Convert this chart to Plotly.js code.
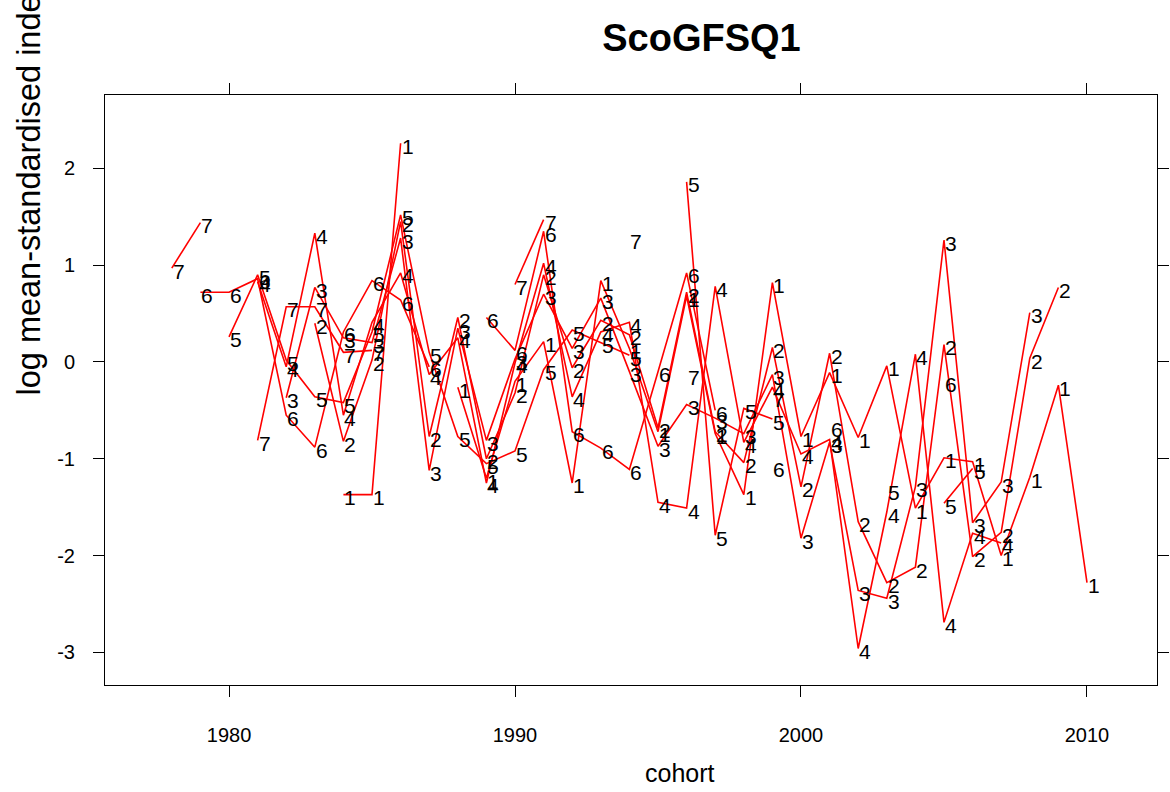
<!DOCTYPE html>
<html>
<head>
<meta charset="utf-8">
<script src="https://cdn.plot.ly/plotly-3.0.1.min.js"></script>
<style>html,body{margin:0;padding:0;background:#fff;}#chart{width:1170px;height:792px;}</style>
</head>
<body>
<div id="chart"></div>
<script>
// survey years; cohort = year - age
const years = [1985,1986,1987,1988,1989,1990,1991,1992,1993,1994,1995,1996,1997,1998,1999,2000,2001,2002,2003,2004,2005,2006,2007,2008,2009,2010,2011];
const ages = [1,2,3,4,5,6,7];
const ageLabels = ['1','2','3','4','5','6','7'];

// log mean-standardised index by age (one value per survey year)
const age1 = [-1.37,-1.37,2.26,null,-0.26,-1.20,-0.20,0.21,-1.25,0.84,0.14,-0.72,0.68,-0.74,-1.37,0.82,-0.77,-0.11,-0.78,-0.04,-1.51,-0.99,-1.03,-2.00,-1.19,-0.24,-2.28];
const age2 = [0.40,-0.82,0.02,1.45,-0.77,0.46,-1.00,-0.32,0.90,-0.06,0.43,0.28,-0.68,0.72,-0.72,-1.04,0.15,-1.29,0.09,-1.65,-2.28,-2.12,0.18,-2.01,-1.76,0.04,0.77];
const age3 = [-0.37,0.77,0.25,0.20,1.28,-1.12,0.35,-0.81,0.03,0.70,0.14,0.66,-0.10,-0.87,-0.44,-0.58,-0.74,-0.13,-1.82,-0.83,-2.36,-2.44,-1.29,1.26,-1.66,-1.24,0.51];
const age4 = [0.83,-0.05,1.33,-0.55,0.41,0.92,-0.13,0.25,-1.25,-0.01,1.02,-0.36,0.31,0.41,-1.45,-1.51,0.78,-0.83,-0.26,-0.95,-0.80,-2.96,-1.55,0.08,-2.69,-1.77,-1.87];
const age5 = [0.26,0.90,0.02,-0.36,-0.42,0.31,1.52,0.10,-0.77,-1.05,-0.92,-0.08,0.33,0.20,0.07,null,1.86,-1.79,-0.48,-0.59,null,null,null,-1.32,null,-1.46,-1.10];
const age6 = [0.72,0.72,0.86,-0.55,-0.88,0.31,0.84,0.64,-0.05,null,0.46,0.12,1.35,-0.72,-0.89,-1.11,-0.10,0.92,-0.50,null,-1.08,null,-0.67,null,null,null,-0.20];
const age7 = [0.97,1.44,null,-0.81,0.57,0.57,0.10,0.12,null,null,null,null,0.80,1.47,null,null,1.28,null,-0.13,null,null,-0.36,null,null,null,null,null];

const yTickVals = [-3,-2,-1,0,1,2];
const yTickText = ['-3','-2','-1','0','1','2'];
const xTickVals = [1980,1990,2000,2010];
const xTickText = ['1980','1990','2000','2010'];

const series = [age1,age2,age3,age4,age5,age6,age7];
const FONT = 'Liberation Sans, Arial, sans-serif';

const traces = [];
const annotations = [];
series.forEach((vals, k) => {
  const age = ages[k];
  const x = years.map(y => y - age);
  traces.push({
    x: x, y: vals, type: 'scatter', mode: 'lines',
    line: {color: '#ff0000', width: 1.6}, connectgaps: false,
    hoverinfo: 'skip', showlegend: false
  });
  vals.forEach((v, i) => {
    if (v === null) return;
    annotations.push({
      x: x[i], y: v, xref: 'x', yref: 'y', text: ageLabels[k], showarrow: false,
      xanchor: 'center', yanchor: 'middle', xshift: 7, yshift: -3,
      font: {family: FONT, size: 21, color: '#000'}
    });
  });
});

// axis titles
annotations.push({
  text: 'cohort', xref: 'paper', yref: 'paper', x: 0.5466, y: -0.149,
  xanchor: 'center', yanchor: 'middle', showarrow: false,
  font: {family: FONT, size: 25, color: '#000'}
});
annotations.push({
  text: 'log mean-standardised index', xref: 'paper', yref: 'paper', x: -0.0722, y: 0.4865,
  xanchor: 'center', yanchor: 'bottom', textangle: -90, showarrow: false,
  font: {family: FONT, size: 32.5, color: '#000'}
});

const axisCommon = {
  showline: true, linecolor: '#000', linewidth: 1, mirror: 'ticks',
  ticks: 'outside', ticklen: 11, tickwidth: 1, tickcolor: '#000',
  showgrid: false, zeroline: false,
  tickfont: {family: FONT, size: 20, color: '#000'}
};

const layout = {
  width: 1170, height: 792,
  margin: {l: 105, r: 13, t: 95, b: 107},
  paper_bgcolor: '#fff', plot_bgcolor: '#fff',
  title: {text: 'ScoGFSQ1', xref: 'paper', x: 0.567, y: 0.952, xanchor: 'center', yanchor: 'middle',
          font: {family: FONT, size: 38, color: '#000', weight: 'bold'}},
  xaxis: Object.assign({}, axisCommon, {range: [1975.664, 2012.448], tickvals: xTickVals, ticktext: xTickText, ticklabelstandoff: 21}),
  yaxis: Object.assign({}, axisCommon, {range: [-3.337, 2.758], tickvals: yTickVals, ticktext: yTickText, ticklabelstandoff: 14}),
  annotations: annotations,
  showlegend: false
};

Plotly.newPlot('chart', traces, layout, {staticPlot: true, displayModeBar: false});
</script>
</body>
</html>
